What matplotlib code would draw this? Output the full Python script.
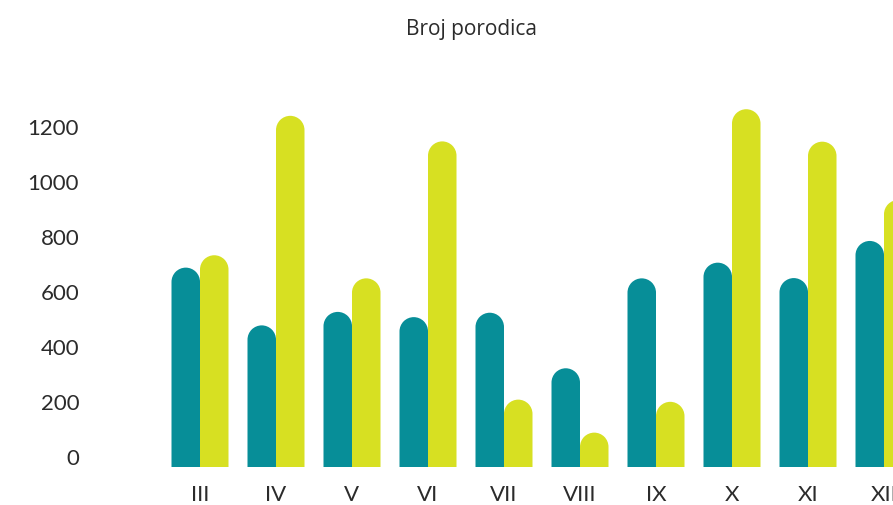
import numpy as np
import matplotlib.pyplot as plt
import matplotlib.transforms as mtransforms
from matplotlib.path import Path
from matplotlib.patches import PathPatch

# Daten
months = ['III', 'IV', 'V', 'VI', 'VII', 'VIII', 'IX', 'X', 'XI', 'XII']
series_a = [725, 515, 564, 545, 561, 359, 686, 743, 687, 822]
series_b = [770, 1277, 686, 1184, 245, 125, 237, 1301, 1183, 971]
yticks = [0, 200, 400, 600, 800, 1000, 1200]

teal = '#078e98'
lime = '#d7e022'

fig = plt.figure(figsize=(8.93, 5.05), dpi=100)
W, H = 893, 505
ax = fig.add_axes([100 / W, (H - 467) / H, 1 - 100 / W, (467 - 100) / H])

x = np.arange(len(months))
w = 0.375
ax.set_xlim((100 - 200) / 76, (893 - 200) / 76)
ax.set_ylim(0, (467 - 100) / 0.275)

# Seitenverhaeltnis, damit die Kappe ein echter Halbkreis wird
p0 = ax.transData.transform((0, 0))
p1 = ax.transData.transform((1, 1))
aspect = (p1[0] - p0[0]) / (p1[1] - p0[1])
arc = Path.arc(0, 180)


def rounded(rect):
    x0, bw, top = rect.get_x(), rect.get_width(), rect.get_height()
    rx = bw / 2
    ry = rx * aspect
    cx, cy = x0 + rx, top - ry
    av = arc.vertices * [rx, ry] + [cx, cy]
    verts = [(x0, 0), (x0 + bw, 0), (x0 + bw, cy)] + list(map(tuple, av[1:])) + [(x0, 0)]
    codes = [Path.MOVETO, Path.LINETO, Path.LINETO] + list(arc.codes[1:]) + [Path.CLOSEPOLY]
    return Path(verts, codes)


for off, vals, col in [(-w / 2, series_a, teal), (w / 2, series_b, lime)]:
    bars = ax.bar(x + off, vals, w, color=col, linewidth=0)
    for rect in bars:
        ax.add_patch(PathPatch(rounded(rect), facecolor=col, edgecolor='none'))
        rect.remove()

ax.set_yticks(yticks)
ax.set_yticklabels([str(v) for v in yticks])
ax.set_xticks(x)
ax.set_xticklabels(months)
ax.tick_params(axis='both', length=0, labelsize=16, labelcolor='#2b2b2b')
ax.tick_params(axis='y', pad=15)
ax.tick_params(axis='x', pad=13)
for lab in ax.get_yticklabels():
    lab.set_fontfamily('Lato')
    lab.set_transform(lab.get_transform() + mtransforms.ScaledTranslation(0, 0.1, fig.dpi_scale_trans))
for lab in ax.get_xticklabels():
    lab.set_fontfamily('Lato')
for s in ax.spines.values():
    s.set_visible(False)

fig.text(471 / W, (H - 35) / H, 'Broj porodica', ha='center', va='baseline',
         fontsize=15, family='Open Sans', color='#2b2b2b')

fig.savefig('out.png', dpi=100)
